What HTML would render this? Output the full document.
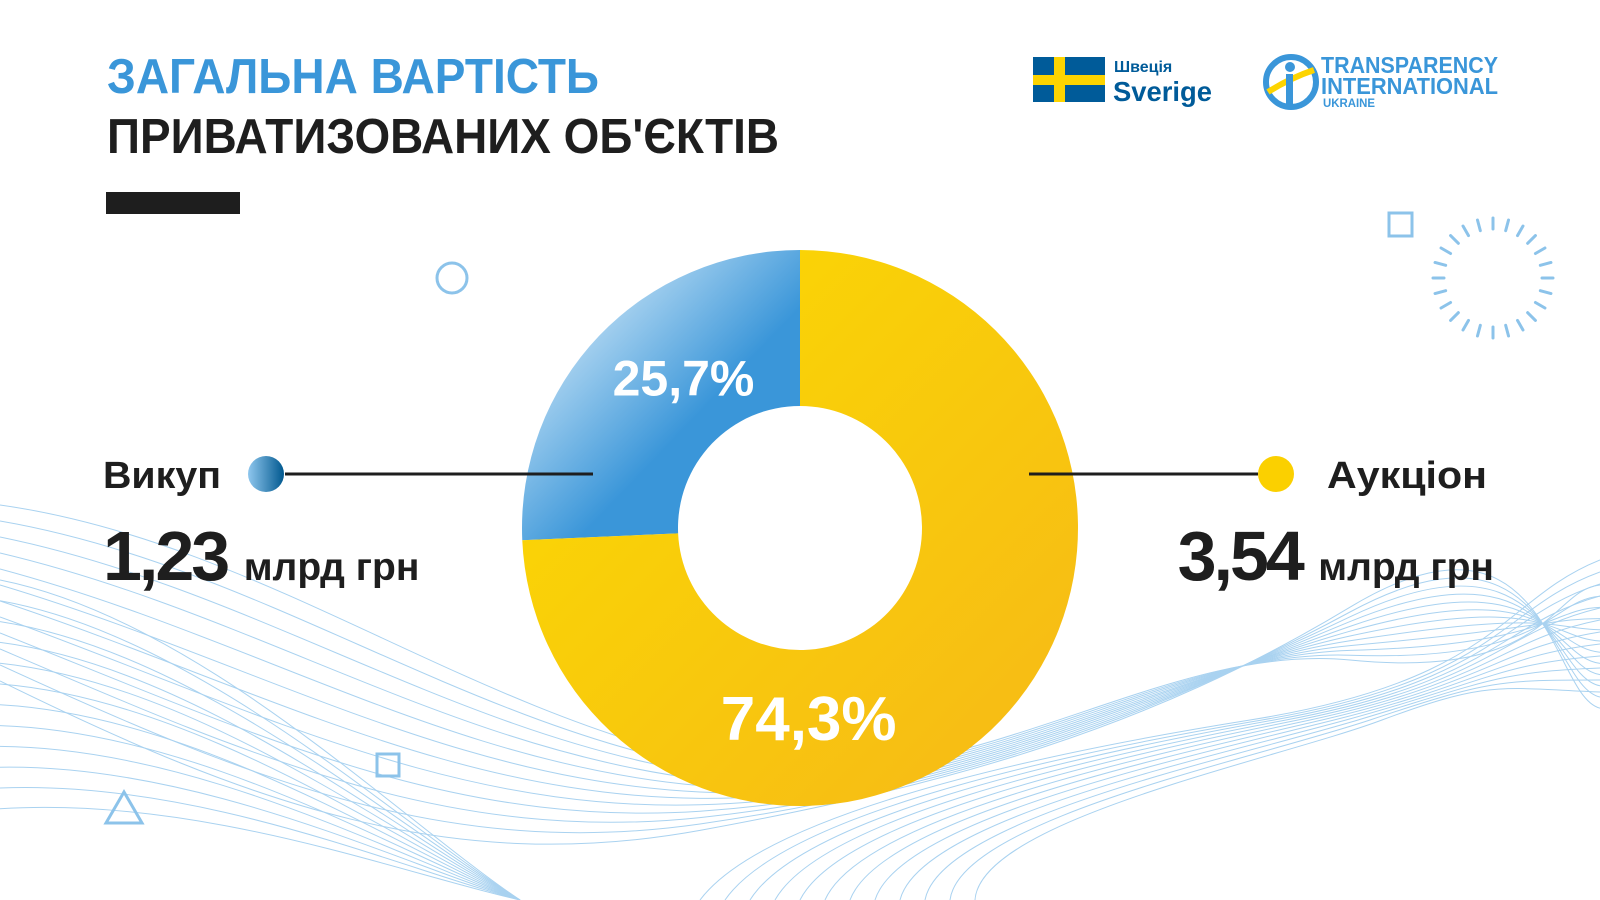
<!DOCTYPE html>
<html><head><meta charset="utf-8"><style>
html,body{margin:0;padding:0;background:#fff;width:1600px;height:900px;overflow:hidden}
svg{display:block}
text{font-family:"Liberation Sans","DejaVu Sans",sans-serif;font-weight:bold}
</style></head><body>
<svg id="chart" width="1600" height="900" viewBox="0 0 1600 900" xmlns="http://www.w3.org/2000/svg">
<defs>
<linearGradient id="gBlue" x1="0" y1="0" x2="1" y2="1"><stop offset="0" stop-color="#ffffff"/><stop offset="0.35" stop-color="#8cc3ea"/><stop offset="0.6" stop-color="#3a96d9"/><stop offset="1" stop-color="#3a96d9"/></linearGradient>
<linearGradient id="gYel" x1="0" y1="0" x2="1" y2="1"><stop offset="0" stop-color="#fbdc00"/><stop offset="1" stop-color="#f6b818"/></linearGradient>
<linearGradient id="gDot" x1="0" y1="0" x2="1" y2="0"><stop offset="0" stop-color="#8fc7ee"/><stop offset="1" stop-color="#00588f"/></linearGradient>
</defs>
<g id="waves" fill="none" stroke="#a9d2f0" stroke-width="1"></g>

<text x="107" y="93" font-size="49" fill="#3a96d9" textLength="492" lengthAdjust="spacingAndGlyphs">ЗАГАЛЬНА ВАРТІСТЬ</text>
<text x="107" y="153" font-size="49" fill="#1e1e1e" textLength="672" lengthAdjust="spacingAndGlyphs">ПРИВАТИЗОВАНИХ ОБ'ЄКТІВ</text>
<rect x="106" y="192" width="134" height="22" fill="#1e1e1e"/>

<g>
<rect x="1033" y="57" width="72" height="45" fill="#005b99"/>
<rect x="1054" y="57" width="11" height="45" fill="#fdd400"/>
<rect x="1033" y="75" width="72" height="10" fill="#fdd400"/>
<text x="1114" y="72" font-size="16" fill="#005b99">Швеція</text>
<text x="1113" y="101" font-size="28" fill="#005b99" textLength="99" lengthAdjust="spacingAndGlyphs">Sverige</text>
</g>
<g>
<circle cx="1291" cy="82" r="25" fill="none" stroke="#3a96d9" stroke-width="6"/>
<path d="M1268 92 Q1290 78 1314 70" stroke="#fdd400" stroke-width="6" fill="none"/>
<circle cx="1290" cy="67" r="5" fill="#3a96d9"/>
<rect x="1286" y="74" width="7" height="30" fill="#3a96d9"/>
<text x="1321" y="73" font-size="23" fill="#3a96d9" textLength="177" lengthAdjust="spacingAndGlyphs">TRANSPARENCY</text>
<text x="1321" y="94" font-size="23" fill="#3a96d9" textLength="177" lengthAdjust="spacingAndGlyphs">INTERNATIONAL</text>
<text x="1323" y="107" font-size="12" fill="#3a96d9" textLength="52" lengthAdjust="spacingAndGlyphs">UKRAINE</text>
</g>

<g fill="none" stroke="#8cc3ea" stroke-width="3">
<circle cx="452" cy="278" r="15"/>
<rect x="1389" y="213" width="23" height="23"/>
<rect x="377" y="754" width="22" height="22"/>
<path d="M124 792 L106 823 L142 823 Z"/>
<g id="sun" stroke-width="3" stroke-linecap="round"></g>
</g>

<g id="donut"></g>

<line x1="285" y1="474" x2="593" y2="474" stroke="#1e1e1e" stroke-width="3"/>
<circle cx="266" cy="474" r="18" fill="url(#gDot)"/>
<text x="103" y="488" font-size="38" fill="#1e1e1e" textLength="118" lengthAdjust="spacingAndGlyphs">Викуп</text>
<text x="103" y="580" font-size="70" fill="#1e1e1e" letter-spacing="-3">1,23 <tspan font-size="39" letter-spacing="0">млрд грн</tspan></text>

<line x1="1029" y1="474" x2="1258" y2="474" stroke="#1e1e1e" stroke-width="3"/>
<circle cx="1276" cy="474" r="18" fill="#fbd000"/>
<text x="1487" y="488" font-size="38" fill="#1e1e1e" text-anchor="end" textLength="160" lengthAdjust="spacingAndGlyphs">Аукціон</text>
<text x="1494" y="580" font-size="70" fill="#1e1e1e" text-anchor="end" letter-spacing="-3">3,54 <tspan font-size="39" letter-spacing="0">млрд грн</tspan></text>
</svg>
<script>
const categories = ["Викуп", "Аукціон"];
const shares = [25.7, 74.3];
const shareLabels = ["25,7%", "74,3%"];
const NS = "http://www.w3.org/2000/svg";
const cx = 800, cy = 528, rOut = 278, rIn = 122;
const fills = ["url(#gBlue)", "url(#gYel)"];
const donut = document.getElementById("donut");
const total = shares.reduce((a, b) => a + b, 0);
function pt(r, frac) { const a = -Math.PI / 2 - frac * 2 * Math.PI; return [cx + r * Math.cos(a), cy + r * Math.sin(a)]; }
let acc = 0;
shares.forEach((v, i) => {
  const f0 = acc / total, f1 = (acc + v) / total; acc += v;
  const [x0, y0] = pt(rOut, f0), [x1, y1] = pt(rOut, f1), [x2, y2] = pt(rIn, f1), [x3, y3] = pt(rIn, f0);
  const large = (f1 - f0) > 0.5 ? 1 : 0;
  const p = document.createElementNS(NS, "path");
  p.setAttribute("d", `M${x0} ${y0} A${rOut} ${rOut} 0 ${large} 0 ${x1} ${y1} L${x2} ${y2} A${rIn} ${rIn} 0 ${large} 1 ${x3} ${y3}Z`);
  p.setAttribute("fill", fills[i]);
  
  
  donut.appendChild(p);
  const pos = i === 0 ? f0 + (f1 - f0) * 0.5 : f0 + (f1 - f0) * 0.33;
  const lr = i === 0 ? 200 : 192;
  const [lx, ly] = pt(lr, pos);
  const t = document.createElementNS(NS, "text");
  t.setAttribute("x", i === 0 ? lx + 28 : lx + 6);
  t.setAttribute("y", i === 0 ? ly + 6 : ly + 20);
  t.setAttribute("text-anchor", "middle");
  t.setAttribute("font-size", i === 0 ? 50 : 62);
  t.setAttribute("fill", "#fff");
  t.textContent = shareLabels[i];
  
  
  donut.appendChild(t);
});
const sun = document.getElementById("sun");
for (let k = 0; k < 24; k++) {
  const a = k * Math.PI / 12;
  const l = document.createElementNS(NS, "line");
  l.setAttribute("x1", 1493 + 49 * Math.cos(a)); l.setAttribute("y1", 278 + 49 * Math.sin(a));
  l.setAttribute("x2", 1493 + 60 * Math.cos(a)); l.setAttribute("y2", 278 + 60 * Math.sin(a));
  
  
  sun.appendChild(l);
}
const waves = document.getElementById("waves");
for (let k = 0; k < 12; k++) {
  const o = k * 16;
  const p = document.createElementNS(NS, "path");
  p.setAttribute("d", `M0 ${505 + o} C250 ${540 + o * 1.5} 450 ${700 + o} 700 ${760 + o * 0.4} S1150 ${640 + o * 0.5} 1350 ${660 - o * 0.3} S1550 ${590 + o * 0.6} 1600 ${585 + o * 0.7}`);
  
  
  waves.appendChild(p);
  const q = document.createElementNS(NS, "path");
  q.setAttribute("d", `M0 ${580 + o * 1.3} C200 ${620 + o} 400 ${820 + o * 0.3} 520 ${900}`);
  
  
  waves.appendChild(q);
  const r = document.createElementNS(NS, "path");
  r.setAttribute("d", `M${700 + k * 25} 900 C${760 + k * 20} 820 ${1000 + k * 25} 760 ${1250 + k * 12} 720 S1500 ${600 + k * 8} 1600 ${560 + k * 12}`);
  
  
  waves.appendChild(r);
}
</script>
</body></html>
